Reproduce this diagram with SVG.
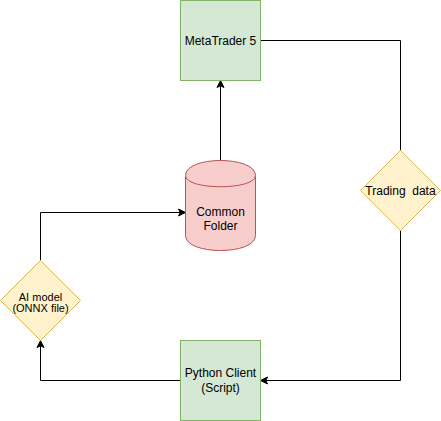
<svg xmlns="http://www.w3.org/2000/svg" width="441" height="421" viewBox="0 0 441 421">
  <defs>
    <style>
      .green { fill: #d5e8d4; stroke: #82b366; stroke-width: 1; }
      .red { fill: #f8cecc; stroke: #b85450; stroke-width: 1; }
      .yellow { fill: #fff2cc; stroke: #d6b656; stroke-width: 1; }
      .edge { fill: none; stroke: #000000; stroke-width: 1; }
      .lbl { font-family: "Liberation Sans", Arial, Helvetica, sans-serif; font-size: 12px; fill: #000000; text-anchor: middle; }
      .small { font-size: 11px; }
    </style>
    <marker id="arrow" markerUnits="userSpaceOnUse" markerWidth="8" markerHeight="8" refX="7" refY="3.5" orient="auto" viewBox="0 0 8 8" overflow="visible">
      <path d="M0,0 L7,3.5 L0,7 L1.75,3.5 Z" fill="#000000" stroke="#000000" stroke-width="1"/>
    </marker>
  </defs>
  <rect width="441" height="421" fill="#ffffff"/>

  <g id="connectors">
    <path class="edge" d="M220.5,160.5 V80.5" marker-end="url(#arrow)"/>
    <path class="edge" d="M260.5,40.5 H400.5 V150.5"/>
    <path class="edge" d="M400.5,230.5 V380.5 H260.5" marker-end="url(#arrow)"/>
    <path class="edge" d="M180.5,380.5 H40.5 V340.5" marker-end="url(#arrow)"/>
    <path class="edge" d="M40.5,260.5 V212.5 H185.5" marker-end="url(#arrow)"/>
  </g>

  <g id="metatrader">
    <rect class="green" x="180.5" y="0.5" width="80" height="80"/>
    <text class="lbl" x="220.5" y="44.5">MetaTrader 5</text>
  </g>

  <g id="common-folder">
    <path class="red" d="M185.5,175.5 C185.5,155.5 255.5,155.5 255.5,175.5 L255.5,235.5 C255.5,255.5 185.5,255.5 185.5,235.5 Z"/>
    <path class="red" fill="none" d="M185.5,175.5 C185.5,190.5 255.5,190.5 255.5,175.5"/>
    <text class="lbl" x="220.5" y="215.5">Common</text>
    <text class="lbl" x="220.5" y="229.5">Folder</text>
  </g>

  <g id="trading-data">
    <path class="yellow" d="M400.5,150.5 L440.5,190.5 L400.5,230.5 L360.5,190.5 Z"/>
    <text class="lbl" x="400.5" y="194.5" xml:space="preserve">Trading  data</text>
  </g>

  <g id="ai-model">
    <path class="yellow" d="M40.5,260.5 L80.5,300.5 L40.5,340.5 L0.5,300.5 Z"/>
    <text class="lbl small" x="40.5" y="301">AI model</text>
    <text class="lbl small" x="40.5" y="312">(ONNX file)</text>
  </g>

  <g id="python-client">
    <rect class="green" x="180.5" y="340.5" width="80" height="80"/>
    <text class="lbl" x="220.5" y="377">Python Client</text>
    <text class="lbl" x="220.5" y="391.5">(Script)</text>
  </g>
</svg>
